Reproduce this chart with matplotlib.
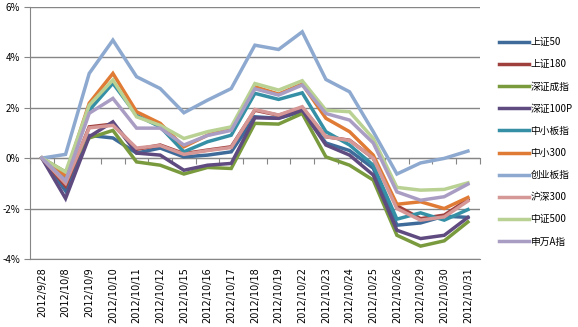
import numpy as np
import matplotlib
matplotlib.use('Agg')
import matplotlib.pyplot as plt
from matplotlib.ticker import FuncFormatter

plt.rcParams['font.family'] = ['Noto Sans CJK SC', 'DejaVu Sans']

# 日期与各指数累计涨跌幅（%）
dates = ['2012/9/28', '2012/10/8', '2012/10/9', '2012/10/10', '2012/10/11',
         '2012/10/12', '2012/10/15', '2012/10/16', '2012/10/17', '2012/10/18',
         '2012/10/19', '2012/10/22', '2012/10/23', '2012/10/24', '2012/10/25',
         '2012/10/26', '2012/10/29', '2012/10/30', '2012/10/31']

sz50   = [0, -1.3, 0.9, 0.8, 0.2, 0.4, 0.05, 0.12, 0.25, 1.64, 1.58, 1.85, 0.6, 0.3, -0.4, -2.66, -2.57, -2.3, -2.35]
sz180  = [0, -1.1, 1.24, 1.35, 0.35, 0.52, 0.18, 0.32, 0.45, 1.9, 1.7, 2.0, 0.85, 0.71, 0.0, -1.89, -2.4, -2.26, -1.64]
szcz   = [0, -0.55, 0.8, 1.1, -0.15, -0.28, -0.63, -0.37, -0.41, 1.38, 1.35, 1.77, 0.05, -0.28, -0.87, -3.06, -3.49, -3.28, -2.53]
sz100p = [0, -1.6, 0.85, 1.44, 0.2, 0.12, -0.48, -0.28, -0.21, 1.6, 1.58, 1.9, 0.52, 0.12, -0.67, -2.86, -3.19, -3.06, -2.35]
zxb    = [0, -0.8, 1.9, 2.97, 1.7, 1.24, 0.25, 0.65, 0.91, 2.57, 2.33, 2.59, 1.05, 0.52, -0.28, -2.42, -2.17, -2.46, -2.04]
zx300  = [0, -0.7, 2.18, 3.36, 1.84, 1.38, 0.45, 0.91, 1.18, 2.83, 2.54, 2.94, 1.58, 1.05, 0.12, -1.83, -1.73, -2.0, -1.56]
cyb    = [0, 0.15, 3.36, 4.68, 3.23, 2.76, 1.8, 2.3, 2.76, 4.48, 4.31, 5.01, 3.12, 2.63, 1.05, -0.63, -0.19, -0.01, 0.28]
hs300  = [0, -1.0, 1.2, 1.3, 0.4, 0.5, 0.15, 0.3, 0.42, 1.93, 1.71, 2.04, 0.85, 0.7, 0.0, -2.0, -2.46, -2.33, -1.7]
zz500  = [0, -0.55, 2.1, 3.1, 1.64, 1.3, 0.78, 1.05, 1.24, 2.96, 2.7, 3.07, 1.9, 1.84, 0.78, -1.16, -1.27, -1.24, -0.98]
swa    = [0, -0.9, 1.78, 2.37, 1.19, 1.19, 0.52, 0.9, 1.1, 2.75, 2.5, 2.9, 1.77, 1.51, 0.6, -1.34, -1.67, -1.53, -1.03]

series = [
    ('上证50', sz50, '#3e6b9a'),
    ('上证180', sz180, '#a0403d'),
    ('深证成指', szcz, '#7a9a3e'),
    ('深证100P', sz100p, '#5f4b80'),
    ('中小板指', zxb, '#3590a6'),
    ('中小300', zx300, '#e07b35'),
    ('创业板指', cyb, '#8ea9cf'),
    ('沪深300', hs300, '#d69896'),
    ('中证500', zz500, '#b9d193'),
    ('申万A指', swa, '#aa9dc4'),
]

fig = plt.figure(figsize=(5.78, 3.27), dpi=100)
ax = fig.add_axes([0.052, 0.208, 0.778, 0.771])

x = np.arange(len(dates))
for name, vals, col in series:
    ax.plot(x, vals, color=col, linewidth=2.5, label=name, solid_joinstyle='miter')

ax.set_xlim(-0.5, len(dates) - 0.5)
ax.set_ylim(-4, 6)
ax.set_yticks(np.arange(-4, 7, 2))
ax.yaxis.set_major_formatter(FuncFormatter(lambda v, p: f'{v:.0f}%'))
ax.grid(axis='y', color='#868686', linewidth=1)
ax.set_axisbelow(True)

for s in ['top', 'right']:
    ax.spines[s].set_visible(False)
ax.spines['left'].set_color('#868686')
ax.spines['bottom'].set_color('#868686')
ax.tick_params(axis='y', length=4, color='#868686', labelsize=7, pad=3)
ax.set_xticks(x)
ax.set_xticklabels(dates, rotation=90, fontsize=7, family='DejaVu Sans')
ax.tick_params(axis='x', length=0, pad=6)

# 分类轴刻度（位于0%处，在分类之间）
sec = ax.secondary_xaxis(0.4)
sec.set_xticks(np.arange(-0.5, len(dates), 1))
sec.set_xticklabels([])
sec.tick_params(length=4, color='#868686', direction='out')
sec.spines['bottom'].set_color('#868686')

leg = ax.legend(loc='upper left', bbox_to_anchor=(1.035, 0.895), frameon=False,
                fontsize=7, handlelength=3, handletextpad=0.2,
                labelspacing=1.25, borderaxespad=0)

fig.savefig('out.png', dpi=100)
